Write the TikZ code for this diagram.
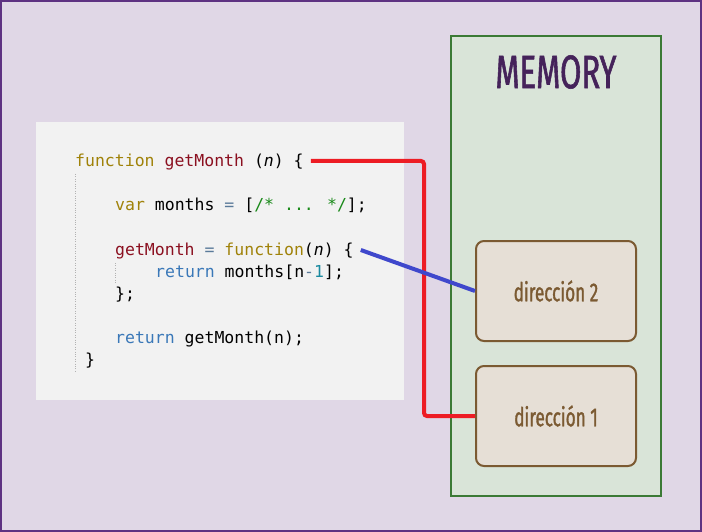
\documentclass[tikz,border=0pt]{standalone}
\usepackage{fontspec}
\usepackage{tikz}
\usetikzlibrary{positioning}
\newfontfamily\codefont{DejaVu Sans Mono}
\newfontfamily\memfont[FakeStretch=0.66, FakeBold=1.2]{Fira Sans}
\definecolor{bgpurple}{HTML}{E0D7E6}
\definecolor{edgepurple}{HTML}{5E3282}
\definecolor{codebg}{HTML}{F2F2F2}
\definecolor{memfill}{HTML}{D9E4D8}
\definecolor{memedge}{HTML}{3B7A35}
\definecolor{memtext}{HTML}{45225A}
\definecolor{cellfill}{HTML}{E6DFD6}
\definecolor{celledge}{HTML}{7B5A32}
\definecolor{kwcol}{HTML}{A08209}
\definecolor{fncol}{HTML}{8B1020}
\definecolor{retcol}{HTML}{3A78B8}
\definecolor{cmtcol}{HTML}{1A8A1A}
\definecolor{opcol}{HTML}{5A7A9A}
\definecolor{numcol}{HTML}{1A8AA0}
\definecolor{redline}{HTML}{ED1C24}
\definecolor{blueline}{HTML}{3F48CC}
\newcommand{\kw}[1]{\textcolor{kwcol}{#1}}
\newcommand{\fn}[1]{\textcolor{fncol}{#1}}
\newcommand{\rt}[1]{\textcolor{retcol}{#1}}
\newcommand{\op}[1]{\textcolor{opcol}{#1}}
\tikzstyle{codeline}=[anchor=base west, inner sep=0pt,
  font=\codefont\fontsize{16.5}{22}\selectfont]
\tikzstyle{cell}=[rectangle, draw=celledge, fill=cellfill, line width=2pt,
  rounded corners=8pt, minimum width=160pt, minimum height=100pt,
  font=\memfont\fontsize{26}{26}\selectfont, text=celledge]
\tikzstyle{link}=[line width=4pt, rounded corners=3pt]

\begin{document}
\begin{tikzpicture}[x=1pt, y=-1pt]
  % background and frame
  \fill [bgpurple] (0,0) rectangle (702,532);
  \draw [edgepurple, line width=2pt] (1,1) rectangle (701,531);
  \useasboundingbox (0,0) rectangle (702,532);

  % code panel
  \fill [codebg] (36,122) rectangle (404,400);
  \draw [gray!60, dotted] (75,174) -- (75,371);
  \draw [gray!60, dotted] (115,263) -- (115,284);
  \node [codeline] (l1) at (75,167)
    {\kw{function} \fn{getMonth} (\textit{n}) \{};
  \node [codeline] (l2) at (115,211)
    {\kw{var} months \op{=} [\textcolor{cmtcol}{/* ... */}];};
  \node [codeline] (l3) at (115,255)
    {\fn{getMonth} \op{=} \kw{function}(\textit{n}) \{};
  \node [codeline] (l4) at (155,277)
    {\rt{return} months[n\op{-}\textcolor{numcol}{1}];};
  \node [codeline] (l5) at (115,299) {\};};
  \node [codeline] (l6) at (115,343) {\rt{return} getMonth(n);};
  \node [codeline] (l7) at (85,365) {\}};

  % memory
  \draw [memedge, fill=memfill, line width=2pt] (451,36) rectangle (661,496);
  \node [font=\memfont\fontsize{47}{47}\selectfont, text=memtext]
    (mem) at (556,72) {MEMORY};
  \node [cell] (dir2) at (556,291) {dirección 2};
  \node [cell, below=23pt of dir2] (dir1) {dirección 1};

  % links
  \draw [link, redline] ([xshift=7pt,yshift=6pt]l1.base east)
    -| ([xshift=-51pt]dir1.west) -- (dir1.west);
  \draw [link, blueline] ([xshift=7pt,yshift=5pt]l3.base east) -- (dir2.west);
\end{tikzpicture}
\end{document}
